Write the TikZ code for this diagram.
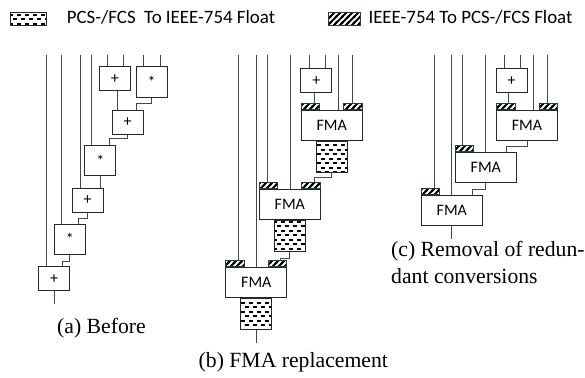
\documentclass[tikz,border=0pt]{standalone}
\usepackage{fontspec}
\setmainfont{Liberation Serif}
\newfontfamily\calfont{Carlito}
\usetikzlibrary{patterns,calc}
\pgfdeclarepatternformonly{thickstripes}{\pgfpoint{-1pt}{-1pt}}{\pgfpoint{7pt}{7pt}}{\pgfpoint{6pt}{6pt}}{
  \pgfsetlinewidth{2.1pt}
  \pgfpathmoveto{\pgfpoint{-1pt}{-1pt}}\pgfpathlineto{\pgfpoint{7pt}{7pt}}
  \pgfpathmoveto{\pgfpoint{-1pt}{5pt}}\pgfpathlineto{\pgfpoint{1pt}{7pt}}
  \pgfpathmoveto{\pgfpoint{5pt}{-1pt}}\pgfpathlineto{\pgfpoint{7pt}{1pt}}
  \pgfusepath{stroke}}
\pgfdeclarepatternformonly{dashrows}{\pgfpoint{-1pt}{-1pt}}{\pgfpoint{9pt}{10pt}}{\pgfpoint{8pt}{9pt}}{
  \pgfsetlinewidth{1.6pt}
  \pgfpathmoveto{\pgfpoint{0.5pt}{2.25pt}}\pgfpathlineto{\pgfpoint{4.5pt}{2.25pt}}
  \pgfpathmoveto{\pgfpoint{4.5pt}{6.75pt}}\pgfpathlineto{\pgfpoint{8.5pt}{6.75pt}}
  \pgfusepath{stroke}}
\definecolor{hatgreen}{RGB}{30,70,40}
\tikzset{
  wire/.style={draw=black!72, line width=0.9pt},
  opbox/.style={draw=black!85, line width=1pt, fill=white, inner sep=0pt,
    minimum width=31pt, font=\calfont\fontsize{16}{18}\selectfont},
  plusbox/.style={opbox, minimum height=24pt},
  mulbox/.style={opbox, minimum height=30.5pt},
  fmabox/.style={opbox, minimum width=61pt, minimum height=30.5pt},
  hatbox/.style={draw=hatgreen, line width=0.9pt, pattern=thickstripes, inner sep=0pt,
    minimum width=18.5pt, minimum height=5.5pt},
  dotbox/.style={draw=black!85, line width=1pt, pattern=dashrows, inner sep=0pt,
    minimum width=31pt, minimum height=30.6pt},
  legtext/.style={anchor=base west, inner sep=0pt, font=\calfont\fontsize{18.9}{22}\selectfont},
  captext/.style={anchor=base west, inner sep=0pt, font=\fontsize{21.7}{26}\selectfont},
}
\begin{document}
\begin{tikzpicture}[x=1pt,y=-1pt]
\useasboundingbox (0,0) rectangle (585,377);

% ---------- legend ----------
\node[dotbox, minimum width=36pt, minimum height=12.5pt] (legd) at (28.5,18.9) {};
\node[legtext] (legdt) at (66.7,24) {PCS-/FCS\ \ To IEEE-754 Float};
\node[hatbox, minimum width=31.7pt, minimum height=12.3pt] (legh) at (344.2,18.9) {};
\node[legtext] (leght) at (368.3,24) {IEEE-754 To PCS-/FCS Float};

% ---------- (a) Before ----------
\node[plusbox] (a1) at (114.8,78.8) {+};
\node[mulbox]  (a2) at (151.7,82) {*};
\node[plusbox] (a3) at (127.5,122.2) {+};
\node[mulbox]  (a4) at (100.3,160.5) {*};
\node[plusbox] (a5) at (87.5,200.3) {+};
\node[mulbox]  (a6) at (69.8,239.3) {*};
\node[plusbox] (a7) at (54,278.7) {+};

\coordinate (ia1) at (46.7,55);
\coordinate (ia2) at (61,55);
\coordinate (ia3) at (80.7,55);
\coordinate (ia4) at (91.7,55);
\coordinate (ia5) at (107.7,55);
\coordinate (ia6) at (123.3,55);
\coordinate (ia7) at (143,55);
\coordinate (ia8) at (160.3,55);
\draw[wire] (ia1) -- (ia1 |- a7.north);
\draw[wire] (ia2) -- (ia2 |- a6.north);
\draw[wire] (ia3) -- (ia3 |- a5.north);
\draw[wire] (ia4) -- (ia4 |- a4.north);
\draw[wire] (ia5) -- (ia5 |- a1.north);
\draw[wire] (ia6) -- (ia6 |- a1.north);
\draw[wire] (ia7) -- (ia7 |- a2.north);
\draw[wire] (ia8) -- (ia8 |- a2.north);

\draw[wire] ([xshift=2.5pt]a1.south) -- ([xshift=2.5pt]a1.south |- a3.north);
\draw[wire] (a2.south) -- ++(0,6) -| ([xshift=9pt]a3.north);
\draw[wire] (a3.south) -- ++(0,4) -| ([xshift=9pt]a4.north);
\draw[wire] (a4.south) -- (a4.south |- a5.north);
\draw[wire] (a5.south) -- ++(0,6) -| ([xshift=9pt]a6.north);
\draw[wire] (a6.south) -- ++(0,6.3) -| ([xshift=8.7pt]a7.north);
\coordinate (oa) at ($(a7.south)+(0,12.6)$);
\draw[wire] (a7.south) -- (oa);

\node[captext] (capa) at (57,333.6) {(a) Before};

% ---------- (b) FMA replacement ----------
\node[plusbox] (bp) at (316.3,80.8) {+};
\node[fmabox] (bF1) at (331.7,125.3) {FMA};
\node[hatbox, anchor=south west] (bh1L) at (bF1.north west) {};
\node[hatbox, anchor=south east] (bh1R) at (bF1.north east) {};
\node[dotbox, anchor=north] (bd1) at (bF1.south) {};

\node[fmabox] (bF2) at (289.8,204.3) {FMA};
\node[hatbox, anchor=south west] (bh2L) at (bF2.north west) {};
\node[hatbox, anchor=south east] (bh2R) at (bF2.north east) {};
\node[dotbox, anchor=north] (bd2) at (bF2.south) {};

\node[fmabox] (bF3) at (256.3,282.5) {FMA};
\node[hatbox, anchor=south west] (bh3L) at (bF3.north west) {};
\node[hatbox, anchor=south east] (bh3R) at (bF3.north east) {};
\node[dotbox, anchor=north] (bd3) at (bF3.south) {};

\coordinate (ib1) at (238.3,55);
\coordinate (ib2) at (256,55);
\coordinate (ib3) at (267.7,55);
\coordinate (ib4) at (290,55);
\coordinate (ib5) at (309,55);
\coordinate (ib6) at (325,55);
\coordinate (ib7) at (338,55);
\coordinate (ib8) at (352.7,55);
\draw[wire] (ib1) -- (ib1 |- bh3L.north);
\draw[wire] (ib2) -- (ib2 |- bF3.north);
\draw[wire] (ib3) -- (ib3 |- bh2L.north);
\draw[wire] (ib4) -- (ib4 |- bF2.north);
\draw[wire] (ib5) -- (ib5 |- bp.north);
\draw[wire] (ib6) -- (ib6 |- bp.north);
\draw[wire] (ib7) -- (ib7 |- bF1.north);
\draw[wire] (ib8) -- (ib8 |- bh1R.north);

\draw[wire] ([xshift=-2.3pt]bp.south) -- ([xshift=-2.3pt]bp.south |- bh1L.north);
\draw[wire] (bd1.south) -- ++(0,4.4) -| ([xshift=3pt]bh2R.north);
\draw[wire] (bd2.south) -- ++(0,6.7) -| ([xshift=3.3pt]bh3R.north);
\coordinate (ob) at ($(bd3.south)+(0,12.7)$);
\draw[wire] (bd3.south) -- (ob);

\node[captext] (capb) at (198.5,367) {(b) FMA replacement};

% ---------- (c) Removal of redundant conversions ----------
\node[plusbox] (cp) at (511.7,80.8) {+};
\node[fmabox] (cF1) at (527,125.3) {FMA};
\node[hatbox, anchor=south west] (ch1L) at (cF1.north west) {};
\node[hatbox, anchor=south east] (ch1R) at (cF1.north east) {};

\node[fmabox] (cF2) at (485.8,167.3) {FMA};
\node[hatbox, anchor=south west] (ch2L) at (cF2.north west) {};

\node[fmabox] (cF3) at (451.8,210.3) {FMA};
\node[hatbox, anchor=south west] (ch3L) at (cF3.north west) {};

\coordinate (ic1) at (434.3,55);
\coordinate (ic2) at (451.7,55);
\coordinate (ic3) at (462.7,55);
\coordinate (ic4) at (485.7,55);
\coordinate (ic5) at (504.7,55);
\coordinate (ic6) at (520.7,55);
\coordinate (ic7) at (533.7,55);
\coordinate (ic8) at (547.7,55);
\draw[wire] (ic1) -- (ic1 |- ch3L.north);
\draw[wire] (ic2) -- (ic2 |- cF3.north);
\draw[wire] (ic3) -- (ic3 |- ch2L.north);
\draw[wire] (ic4) -- (ic4 |- cF2.north);
\draw[wire] (ic5) -- (ic5 |- cp.north);
\draw[wire] (ic6) -- (ic6 |- cp.north);
\draw[wire] (ic7) -- (ic7 |- cF1.north);
\draw[wire] (ic8) -- (ic8 |- ch1R.north);

\draw[wire] ([xshift=-3.7pt]cp.south) -- ([xshift=-3.7pt]cp.south |- ch1L.north);
\draw[wire] (cF1.south) -- ++(0,5) -| ([xshift=21pt]cF2.north);
\draw[wire] (cF2.south) -- ++(0,6.7) -| ([xshift=21pt]cF3.north);
\coordinate (oc) at ($(cF3.south)+(0,12.6)$);
\draw[wire] (cF3.south) -- (oc);

\node[captext] (capc1) at (391,256.5) {(c) Removal of redun-};
\node[captext] (capc2) at (391,283) {dant conversions};
\end{tikzpicture}
\end{document}
